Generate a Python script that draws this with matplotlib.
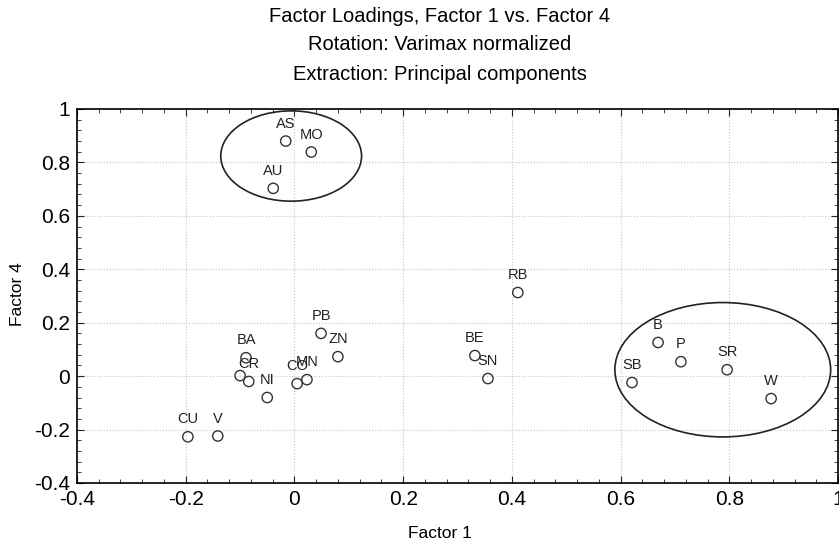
import matplotlib
matplotlib.use("Agg")
import matplotlib.pyplot as plt
from matplotlib.patches import Ellipse
from matplotlib.ticker import MultipleLocator

plt.rcParams["font.family"] = ["Liberation Sans", "DejaVu Sans"]

# factor loadings
labels = ["AS", "MO", "AU", "RB", "PB", "ZN", "BA", "", "CR", "NI", "CO", "MN",
          "CU", "V", "BE", "SN", "B", "P", "SR", "SB", "W"]
factor1 = [-0.016, 0.031, -0.039, 0.411, 0.049, 0.080, -0.089, -0.100, -0.084,
           -0.050, 0.005, 0.023, -0.196, -0.141, 0.332, 0.356, 0.669, 0.711,
           0.796, 0.621, 0.877]
factor4 = [0.880, 0.839, 0.703, 0.313, 0.160, 0.073, 0.069, 0.002, -0.020,
           -0.080, -0.028, -0.013, -0.227, -0.224, 0.077, -0.009, 0.126, 0.054,
           0.024, -0.024, -0.084]

# the two circled groups: (centre x, centre y, width, height)
groups = [(-0.006, 0.824, 0.259, 0.338), (0.788, 0.024, 0.397, 0.503)]

fig = plt.figure(figsize=(8.39, 5.48), dpi=100)
ax = fig.add_axes([77 / 839, 65 / 548, 761 / 839, 374 / 548])

ax.scatter(factor1, factor4, s=55, facecolors="none", edgecolors="#333333",
           linewidths=1.0, zorder=3)
for lab, x, y in zip(labels, factor1, factor4):
    if lab:
        ax.annotate(lab, (x, y), xytext=(0, 12.5), textcoords="offset points",
                    ha="center", va="center", fontsize=10.5, color="#222222")

for cx, cy, w, h in groups:
    ax.add_patch(Ellipse((cx, cy), w, h, fill=False, edgecolor="#222222",
                         linewidth=1.2, zorder=2))

ax.set_xlim(-0.4, 1.0)
ax.set_ylim(-0.4, 1.0)
ax.xaxis.set_major_locator(MultipleLocator(0.2))
ax.yaxis.set_major_locator(MultipleLocator(0.2))
ax.xaxis.set_minor_locator(MultipleLocator(0.04))
ax.yaxis.set_minor_locator(MultipleLocator(0.04))
ax.xaxis.set_major_formatter(lambda v, p: f"{v:g}" if abs(v) > 1e-9 else "0")
ax.yaxis.set_major_formatter(lambda v, p: f"{v:g}" if abs(v) > 1e-9 else "0")
ax.tick_params(which="both", direction="in", top=True, right=True,
               labelsize=15, color="#222222")
ax.tick_params(which="major", length=5, pad=5)
ax.tick_params(which="minor", length=3)
ax.grid(True, which="major", linestyle=":", color="#c4c4c4", linewidth=0.8)
for sp in ax.spines.values():
    sp.set_linewidth(1.2)

ax.set_xlabel("Factor 1", fontsize=12.5)
ax.set_ylabel("Factor 4", fontsize=12.5)
ax.xaxis.set_label_coords((440 - 77) / 761, -(533 - 483) / 374)
ax.yaxis.set_label_coords(-(77 - 17) / 761, (483 - 294) / 374)
ax.xaxis.label.set_va("center")
ax.yaxis.label.set_va("center")

for txt, ypx in [("Factor Loadings, Factor 1 vs. Factor 4", 16),
                 ("Rotation: Varimax normalized", 45),
                 ("Extraction: Principal components", 74)]:
    fig.text(440 / 839, 1 - ypx / 548, txt, ha="center", va="center",
             fontsize=14.5)

fig.savefig("out.png", dpi=100)
